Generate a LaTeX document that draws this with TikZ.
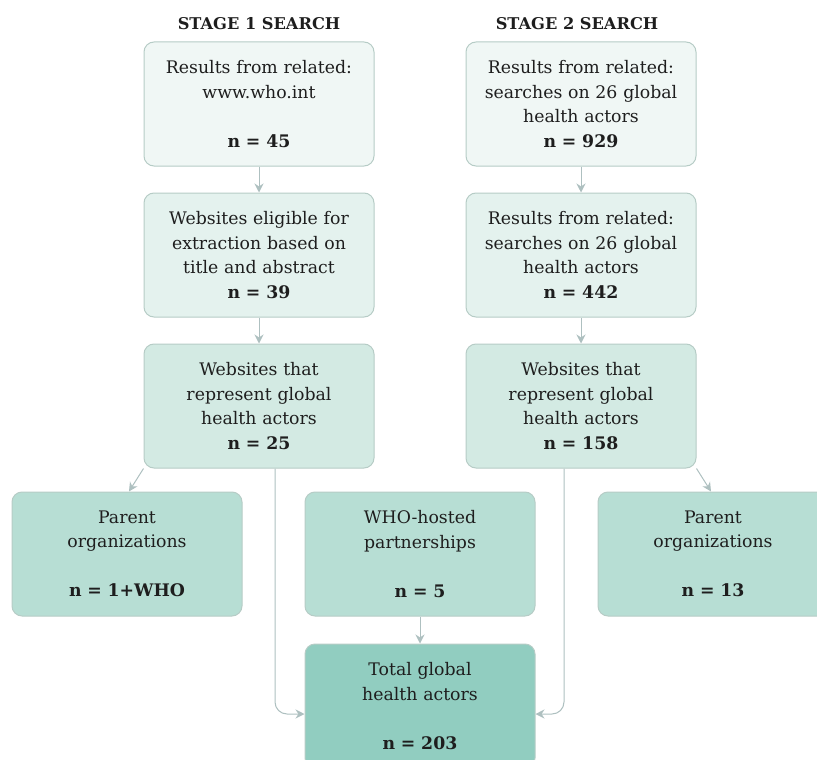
\documentclass[tikz,border=0pt]{standalone}
\usepackage{fontspec}
\setmainfont{DejaVu Serif}
\usetikzlibrary{positioning,arrows.meta,backgrounds}
\definecolor{ghBorder}{RGB}{182,204,198}
\definecolor{ghArrow}{RGB}{174,192,192}
\definecolor{ghText}{RGB}{30,30,30}
\definecolor{ghLevelA}{RGB}{240,247,245}
\definecolor{ghLevelB}{RGB}{228,242,238}
\definecolor{ghLevelC}{RGB}{211,234,227}
\definecolor{ghLevelD}{RGB}{183,222,212}
\definecolor{ghLevelE}{RGB}{145,205,192}
\tikzset{
    base/.style={font=\fontsize{17.3}{24.5}\selectfont, align=center, text=ghText},
    stepbox/.style={base, rectangle, rounded corners=10pt, draw=ghBorder, line width=1pt,
                    text width=224pt, minimum width=230pt, minimum height=124pt, inner sep=0pt},
    header/.style={font=\fontsize{16.2}{18}\selectfont\bfseries, text=ghText},
    flow/.style={-{Stealth[length=9pt,width=9pt]}, line width=1pt, color=ghArrow}
}

\begin{document}
\begin{tikzpicture}[x=1pt, y=-1pt, node distance=26pt]
  \useasboundingbox (0,0) rectangle (817,760);
  \clip (0,0) rectangle (817,760);

  % Stage headers
  \node[header] (head1) at (259,24) {STAGE 1 SEARCH};
  \node[header] (head2) at (577,24) {STAGE 2 SEARCH};

  % Stage 1 column
  \node[stepbox, fill=ghLevelA] (res1) at (259,104) {
    Results from related:\\
    www.who.int\\[24.5pt]
    \textbf{n = 45}
  };
  \node[stepbox, fill=ghLevelB, below=of res1] (elig1) {
    Websites eligible for\\
    extraction based on\\
    title and abstract\\
    \textbf{n = 39}
  };
  \node[stepbox, fill=ghLevelC, below=of elig1] (web1) {
    Websites that\\
    represent global\\
    health actors\\
    \textbf{n = 25}
  };

  % Stage 2 column
  \node[stepbox, fill=ghLevelA] (res2) at (581,104) {
    Results from related:\\
    searches on 26 global\\
    health actors\\
    \textbf{n = 929}
  };
  \node[stepbox, fill=ghLevelB, below=of res2] (elig2) {
    Results from related:\\
    searches on 26 global\\
    health actors\\
    \textbf{n = 442}
  };
  \node[stepbox, fill=ghLevelC, below=of elig2] (web2) {
    Websites that\\
    represent global\\
    health actors\\
    \textbf{n = 158}
  };

  % Third row
  \node[stepbox, fill=ghLevelD] (parent1) at (127,554) {
    Parent\\
    organizations\\[24.5pt]
    \textbf{n = 1+WHO}
  };
  \node[stepbox, fill=ghLevelD] (hosted) at (420,554) {
    WHO-hosted\\
    partnerships\\[24.5pt]
    \textbf{n = 5}
  };
  \node[stepbox, fill=ghLevelD] (parent2) at (713,554) {
    Parent\\
    organizations\\[24.5pt]
    \textbf{n = 13}
  };

  % Total
  \node[stepbox, fill=ghLevelE, below=27pt of hosted] (total) {
    Total global\\
    health actors\\[24.5pt]
    \textbf{n = 203}
  };

  % Connectors
  \begin{scope}[on background layer]
    \draw[flow] (res1) -- (elig1);
    \draw[flow] (elig1) -- (web1);
    \draw[flow] (res2) -- (elig2);
    \draw[flow] (elig2) -- (web2);
    \draw[flow] (web1.south west) -- ([xshift=2pt]parent1.north);
    \draw[flow] (web2.south east) -- ([xshift=-2pt]parent2.north);
    \draw[flow] (hosted) -- (total);
    \draw[flow, rounded corners=12pt] ([xshift=16pt]web1.south) |- ([yshift=-8pt]total.west);
    \draw[flow, rounded corners=12pt] ([xshift=-17pt]web2.south) |- ([yshift=-8pt]total.east);
  \end{scope}
\end{tikzpicture}
\end{document}
